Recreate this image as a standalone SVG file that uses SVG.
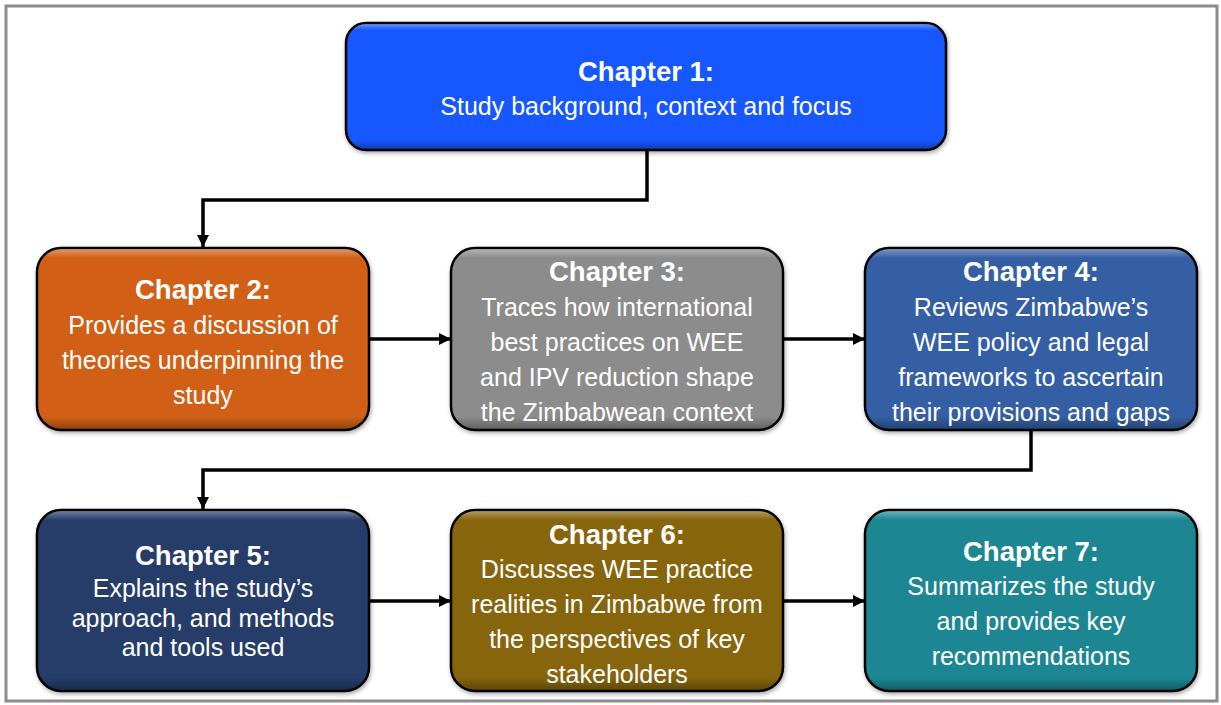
<svg xmlns="http://www.w3.org/2000/svg" width="1221" height="705" viewBox="0 0 1221 705">
<defs>
<style>
.box{stroke:#000;stroke-width:2.5}
.bev{fill:url(#bevel);stroke:none}
.h{font-family:"Liberation Sans",Arial,sans-serif;font-weight:bold;font-size:27.5px;fill:#fff;text-anchor:middle}
.t{font-family:"Liberation Sans",Arial,sans-serif;font-size:25px;fill:#fff;text-anchor:middle}
.c{fill:none;stroke:#000;stroke-width:3.5}
</style>
<linearGradient id="bevel" x1="0" y1="0" x2="0" y2="1">
<stop offset="0" stop-color="#fff" stop-opacity="0.35"/>
<stop offset="0.05" stop-color="#fff" stop-opacity="0"/>
<stop offset="0.93" stop-color="#000" stop-opacity="0"/>
<stop offset="1" stop-color="#000" stop-opacity="0.3"/>
</linearGradient>
<filter id="sh" x="-5%" y="-5%" width="110%" height="115%">
<feDropShadow dx="1" dy="2" stdDeviation="2" flood-color="#000" flood-opacity="0.35"/>
</filter>
<marker id="ah" markerWidth="12" markerHeight="12" viewBox="0 0 12 12" refX="12" refY="6" orient="auto" markerUnits="userSpaceOnUse">
<path d="M0,0 L12,6 L0,12 z" fill="#000"/>
</marker>
</defs>
<rect x="0" y="0" width="1221" height="705" fill="#fff"/>
<rect x="6" y="6" width="1211" height="695" fill="#fff" stroke="#8c8c8c" stroke-width="3"/>

<g id="connectors">
<path class="c" d="M647,150 V200 H203 V247" marker-end="url(#ah)"/>
<path class="c" d="M369,339 H451" marker-end="url(#ah)"/>
<path class="c" d="M783,339 H865" marker-end="url(#ah)"/>
<path class="c" d="M1031,430 V470 H203 V509" marker-end="url(#ah)"/>
<path class="c" d="M369,601 H451" marker-end="url(#ah)"/>
<path class="c" d="M783,601 H865" marker-end="url(#ah)"/>
</g>

<g id="ch1">
<rect class="box" x="346" y="23" width="600" height="127" rx="20" fill="#1558fe" filter="url(#sh)"/>
<rect class="bev" x="347" y="24" width="598" height="125" rx="19"/>
<text class="h" x="646" y="81">Chapter 1:</text>
<text class="t" x="646" y="115">Study background, context and focus</text>
</g>

<g id="ch2">
<rect class="box" x="37" y="248" width="332" height="182" rx="24" fill="#d16119" filter="url(#sh)"/>
<rect class="bev" x="38" y="249" width="330" height="180" rx="23"/>
<text class="h" x="203" y="299">Chapter 2:</text>
<text class="t" x="203" y="334">Provides a discussion of</text>
<text class="t" x="203" y="369">theories underpinning the</text>
<text class="t" x="203" y="404">study</text>
</g>

<g id="ch3">
<rect class="box" x="451" y="248" width="332" height="182" rx="24" fill="#8c8c8c" filter="url(#sh)"/>
<rect class="bev" x="452" y="249" width="330" height="180" rx="23"/>
<text class="h" x="617" y="281">Chapter 3:</text>
<text class="t" x="617" y="316">Traces how international</text>
<text class="t" x="617" y="351">best practices on WEE</text>
<text class="t" x="617" y="386">and IPV reduction shape</text>
<text class="t" x="617" y="421">the Zimbabwean context</text>
</g>

<g id="ch4">
<rect class="box" x="865" y="248" width="332" height="182" rx="24" fill="#365ea4" filter="url(#sh)"/>
<rect class="bev" x="866" y="249" width="330" height="180" rx="23"/>
<text class="h" x="1031" y="281">Chapter 4:</text>
<text class="t" x="1031" y="316">Reviews Zimbabwe’s</text>
<text class="t" x="1031" y="351">WEE policy and legal</text>
<text class="t" x="1031" y="386">frameworks to ascertain</text>
<text class="t" x="1031" y="421">their provisions and gaps</text>
</g>

<g id="ch5">
<rect class="box" x="37" y="510" width="332" height="181" rx="24" fill="#253e6a" filter="url(#sh)"/>
<rect class="bev" x="38" y="511" width="330" height="179" rx="23"/>
<text class="h" x="203" y="565">Chapter 5:</text>
<text class="t" x="203" y="597">Explains the study’s</text>
<text class="t" x="203" y="627">approach, and methods</text>
<text class="t" x="203" y="656">and tools used</text>
</g>

<g id="ch6">
<rect class="box" x="451" y="510" width="332" height="181" rx="24" fill="#866508" filter="url(#sh)"/>
<rect class="bev" x="452" y="511" width="330" height="179" rx="23"/>
<text class="h" x="617" y="544">Chapter 6:</text>
<text class="t" x="617" y="578">Discusses WEE practice</text>
<text class="t" x="617" y="613">realities in Zimbabwe from</text>
<text class="t" x="617" y="648">the perspectives of key</text>
<text class="t" x="617" y="683">stakeholders</text>
</g>

<g id="ch7">
<rect class="box" x="865" y="510" width="332" height="181" rx="24" fill="#1e8792" filter="url(#sh)"/>
<rect class="bev" x="866" y="511" width="330" height="179" rx="23"/>
<text class="h" x="1031" y="561">Chapter 7:</text>
<text class="t" x="1031" y="595">Summarizes the study</text>
<text class="t" x="1031" y="630">and provides key</text>
<text class="t" x="1031" y="665">recommendations</text>
</g>
</svg>
